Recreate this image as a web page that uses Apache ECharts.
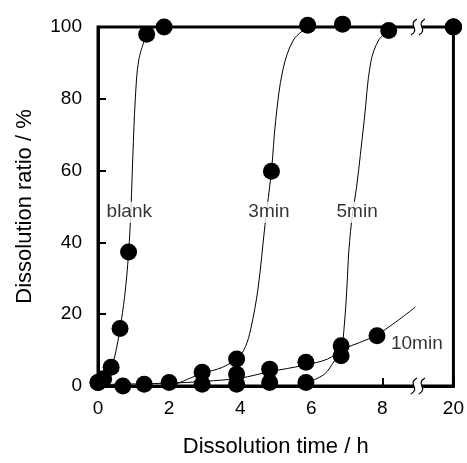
<!DOCTYPE html>
<html>
<head>
<meta charset="utf-8">
<script src="https://cdn.jsdelivr.net/npm/echarts@6/dist/echarts.min.js"></script>
<style>
html,body{margin:0;padding:0;background:#fff}
#main{width:467px;height:463px}
</style>
</head>
<body>
<div id="main"></div>
<script>
// measured points (time in h, ratio in %); 20 h sits after the axis break
var blankPts = [[0,1],[0.16,2],[0.37,5.2],[0.62,16],[0.86,37.3],[1.37,98],[1.86,100],[20,100]];
var min3Pts = [[0,1],[0.7,0],[1.3,0.5],[2,1],[2.93,3.8],[3.9,7.5],[4.88,59.8],[5.9,100.5],[6.88,100.8],[20,100]];
var min5Pts = [[2.93,0.5],[3.9,0.5],[4.83,1],[5.85,1],[6.84,8.4],[8.18,99],[20,100]];
var min10Pts = [[3.9,3.3],[4.83,4.7],[5.85,6.6],[6.84,11.2],[7.85,14]];

// fitted curves
var blankCurve = [[0,1],[0.16,2],[0.37,5.2],[0.5,9.5],[0.62,16],[0.75,25],[0.86,37],[0.93,50],[0.98,64],[1.05,80],[1.15,91],[1.37,98]];
var min3Curve = [[2.19,0.5],[2.93,3.5],[3.5,5.2],[3.95,8],[4.15,11],[4.3,16],[4.5,27],[4.7,45],[4.88,60],[5.0,74],[5.2,88],[5.5,96.4],[5.9,100]];
var min5Curve = [[5.9,1],[6.37,3.3],[6.65,7],[6.84,10],[6.93,17],[7.0,27],[7.06,38],[7.16,48],[7.27,55],[7.49,74],[7.67,90],[7.9,96.4],[8.18,99]];
var min10Curve = [[0,0.4],[2,0.8],[3,1.3],[4,2.2],[4.79,3.9],[5.81,5.8],[6.46,7.5],[6.84,10],[7.85,14.3],[8.93,22]];

// curve names written on the plot
var tagNames = ['blank', '3min', '5min', '10min'];
var tagPos = [[0.88,48.4],[4.81,48.4],[7.29,48.4],[8.97,11.7]];

var xTicks = ['0', '2', '4', '6', '8', '20'];

// 20 h is drawn at position 10 (after the break at 9)
function ax(t) { return t >= 20 ? 10 : t; }
function toAxis(arr) {
    return arr.map(function(p) { return [ax(p[0]), p[1]]; });
}

var font = 'Liberation Sans, Arial, sans-serif';

function dots(data) {
    return {
        type: 'scatter',
        data: toAxis(data),
        symbol: 'circle',
        symbolSize: 17,
        itemStyle: { color: '#000', opacity: 1 },
        clip: false,
        z: 5
    };
}
function curve(data) {
    return {
        type: 'line',
        data: data,
        showSymbol: false,
        smooth: 0.35,
        lineStyle: { color: '#000', width: 1 },
        clip: false,
        z: 3
    };
}

var chart = echarts.init(document.getElementById('main'));

var option = {
    animation: false,
    grid: {
        left: 98, right: 10, top: 27, bottom: 76,
        show: true,
        borderColor: '#000',
        borderWidth: 3
    },
    xAxis: {
        type: 'value',
        min: 0, max: 10, interval: 2,
        name: 'Dissolution time / h',
        nameLocation: 'middle',
        nameGap: 50,
        nameTextStyle: { fontSize: 22, color: '#000', fontFamily: font },
        axisLine: { lineStyle: { color: '#000', width: 3 } },
        axisTick: { inside: true, length: 8, lineStyle: { color: '#000', width: 2 } },
        axisLabel: {
            margin: 13, fontSize: 19, color: '#000', fontFamily: font,
            formatter: function(v) { return xTicks[v / 2]; }
        },
        splitLine: { show: false }
    },
    yAxis: {
        type: 'value',
        min: 0, max: 100, interval: 20,
        name: 'Dissolution ratio / %',
        nameLocation: 'middle',
        nameGap: 62,
        nameTextStyle: { fontSize: 22, color: '#000', fontFamily: font },
        axisLine: { lineStyle: { color: '#000', width: 3 } },
        axisTick: { inside: true, length: 8, lineStyle: { color: '#000', width: 2 } },
        axisLabel: { margin: 16, fontSize: 19, color: '#000', fontFamily: font },
        splitLine: { show: false }
    },
    series: [
        curve(blankCurve),
        curve(min3Curve),
        curve(min5Curve),
        curve(min10Curve),
        {
            type: 'scatter',
            data: tagPos.map(function(p, i) { return { value: p, name: tagNames[i] }; }),
            symbolSize: 1,
            itemStyle: { color: 'rgba(0,0,0,0)' },
            label: {
                show: true,
                position: 'inside',
                formatter: '{b}',
                fontSize: 19,
                color: '#000',
                fontFamily: font,
                backgroundColor: '#fff',
                padding: [1, 1]
            },
            z: 4
        },
        dots(blankPts),
        dots(min3Pts),
        dots(min5Pts),
        dots(min10Pts)
    ]
};
chart.setOption(option);

// axis break marks at 9 h on the bottom and top frame lines
var marks = [];
[0, 100].forEach(function(yv) {
    var c = chart.convertToPixel({ gridIndex: 0 }, [9, yv]);
    marks.push({
        type: 'rect',
        shape: { x: c[0] - 4, y: c[1] - 3, width: 8, height: 6 },
        style: { fill: '#fff' },
        z: 10
    });
    [-4, 4].forEach(function(o) {
        marks.push({
            type: 'bezierCurve',
            shape: {
                x1: c[0] + o + 3, y1: c[1] - 8,
                cpx1: c[0] + o - 7, cpy1: c[1] - 2,
                cpx2: c[0] + o + 7, cpy2: c[1] + 2,
                x2: c[0] + o - 3, y2: c[1] + 8
            },
            style: { stroke: '#000', lineWidth: 1.2, fill: null },
            z: 11
        });
    });
});
chart.setOption({ graphic: marks });
</script>
</body>
</html>
